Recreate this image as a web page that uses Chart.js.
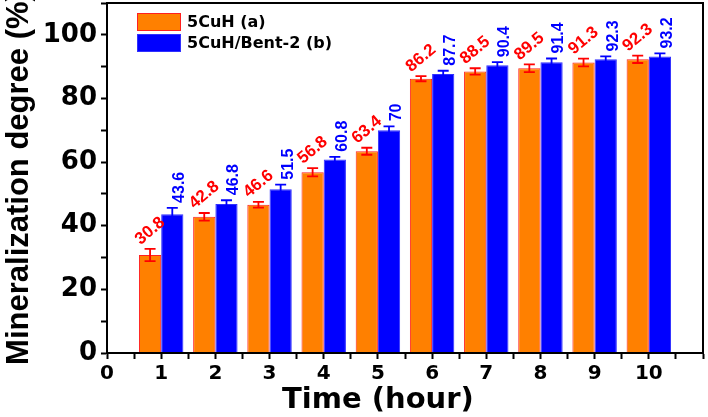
<!DOCTYPE html>
<html>
<head>
<meta charset="utf-8">
<script src="https://cdn.jsdelivr.net/npm/chart.js@4.4.1/dist/chart.umd.min.js"></script>
<style>
html, body { margin: 0; padding: 0; background: #fff; }
#wrap { width: 708px; height: 417px; }
</style>
</head>
<body>
<div id="wrap"><canvas id="chart" width="708" height="417"></canvas></div>
<script>
// values
var hours = [1, 2, 3, 4, 5, 6, 7, 8, 9, 10];
var cuhValues = [30.8, 42.8, 46.6, 56.8, 63.4, 86.2, 88.5, 89.5, 91.3, 92.3];
var cuhErrors = [1.9, 1.2, 0.9, 1.3, 1.1, 0.8, 1.0, 1.2, 1.2, 1.15];
var bentValues = [43.6, 46.8, 51.5, 60.8, 70, 87.7, 90.4, 91.4, 92.3, 93.2];
var bentErrors = [2.0, 1.2, 1.4, 0.85, 1.25, 1.0, 1.0, 1.15, 0.9, 0.95];
var xTickLabels = ['0', '1', '2', '3', '4', '5', '6', '7', '8', '9', '10'];
var yTickLabels = ['0', '20', '40', '60', '80', '100'];
var seriesNames = ['5CuH (a)', '5CuH/Bent-2 (b)'];

var boldSans = '"DejaVu Sans", sans-serif';
var boldArial = '"Liberation Sans", Arial, sans-serif';

function toPoints(vals) {
    return hours.map(function (h, i) { return { x: h, y: vals[i] }; });
}

// error bars + value labels, placed from the scales
var barExtras = {
    id: 'barExtras',
    afterDatasetsDraw: function (chart) {
        var ctx = chart.ctx;
        var yScale = chart.scales.y;
        chart.data.datasets.forEach(function (ds, d) {
            var meta = chart.getDatasetMeta(d);
            meta.data.forEach(function (bar, i) {
                var v = ds.values[i], e = ds.errors[i];
                var top = yScale.getPixelForValue(v + e);
                var bot = yScale.getPixelForValue(v - e);
                ctx.save();
                ctx.strokeStyle = ds.errorColor;
                ctx.lineWidth = 1.8;
                ctx.beginPath();
                ctx.moveTo(bar.x, top); ctx.lineTo(bar.x, bot);
                ctx.moveTo(bar.x - 5.5, top); ctx.lineTo(bar.x + 5.5, top);
                ctx.moveTo(bar.x - 5.5, bot); ctx.lineTo(bar.x + 5.5, bot);
                ctx.stroke();

                ctx.fillStyle = ds.errorColor;
                if (d === 0) {
                    ctx.font = 'bold 17px ' + boldArial;
                    ctx.translate(bar.x, top - 18);
                    ctx.rotate(-40 * Math.PI / 180);
                    ctx.textAlign = 'center';
                    ctx.textBaseline = 'middle';
                } else {
                    ctx.font = 'bold 16px ' + boldArial;
                    ctx.translate(bar.x + 7.5, top - 5);
                    ctx.rotate(-Math.PI / 2);
                    ctx.textAlign = 'left';
                    ctx.textBaseline = 'middle';
                }
                ctx.fillText(String(v), 0, 0);
                ctx.restore();
            });
        });
    }
};

// frame, legend and x title
var decor = {
    id: 'decor',
    afterDraw: function (chart) {
        var ctx = chart.ctx;
        var a = chart.chartArea;
        ctx.save();
        ctx.strokeStyle = '#000';
        ctx.lineWidth = 2;
        ctx.strokeRect(a.left, a.top, a.right - a.left, a.bottom - a.top);

        // legend
        chart.data.datasets.forEach(function (ds, d) {
            var bx = a.left + 30, by = a.top + 10 + d * 21;
            ctx.fillStyle = ds.backgroundColor;
            ctx.fillRect(bx, by, 44, 18);
            ctx.strokeStyle = ds.borderColor;
            ctx.lineWidth = 1;
            ctx.strokeRect(bx + 0.5, by + 0.5, 43, 17);
            ctx.fillStyle = '#000';
            ctx.font = 'bold 16px ' + boldSans;
            ctx.textAlign = 'left';
            ctx.textBaseline = 'middle';
            ctx.fillText(ds.label, bx + 50, by + 10);
        });

        // x title centred on the 0..10 span
        var xs = chart.scales.x;
        ctx.fillStyle = '#000';
        ctx.font = 'bold 29px ' + boldSans;
        ctx.textAlign = 'center';
        ctx.textBaseline = 'middle';
        ctx.fillText('Time (hour)', (xs.getPixelForValue(0) + xs.getPixelForValue(10)) / 2, 400);
        ctx.restore();
    }
};

function noPad(s) {
    s.paddingTop = 0; s.paddingBottom = 0; s.paddingLeft = 0; s.paddingRight = 0;
}

new Chart(document.getElementById('chart').getContext('2d'), {
    type: 'bar',
    data: {
        datasets: [{
            label: seriesNames[0],
            data: toPoints(cuhValues),
            values: cuhValues,
            errors: cuhErrors,
            errorColor: '#ff0000',
            backgroundColor: '#ff8000',
            borderColor: '#ff2020',
            borderWidth: 1
        }, {
            label: seriesNames[1],
            data: toPoints(bentValues),
            values: bentValues,
            errors: bentErrors,
            errorColor: '#0000ff',
            backgroundColor: '#0000ff',
            borderColor: '#3030ff',
            borderWidth: 1
        }]
    },
    options: {
        responsive: false,
        animation: false,
        devicePixelRatio: 1,
        layout: { padding: { top: 3, right: 5, left: 0, bottom: 0 } },
        // ruler spacing is the half-hour tick step, so 1.64 of it is one group
        categoryPercentage: 1.64,
        barPercentage: 1.0,
        plugins: {
            legend: { display: false },
            tooltip: { enabled: false }
        },
        scales: {
            x: {
                type: 'linear',
                min: 0,
                max: 11,
                offset: false,
                afterFit: function (s) { s.height = 64; noPad(s); },
                border: { color: '#000', width: 2 },
                grid: { display: true, offset: false, drawOnChartArea: false, drawTicks: true, tickLength: 6, tickColor: '#000', tickWidth: 2 },
                ticks: {
                    stepSize: 0.5,
                    autoSkip: false,
                    maxRotation: 0,
                    padding: 3,
                    color: '#000',
                    font: { family: boldSans, size: 20, weight: 'bold' },
                    callback: function (v) {
                        return (Number.isInteger(v) && v <= 10) ? xTickLabels[v] : '';
                    }
                }
            },
            y: {
                min: 0,
                max: 110,
                afterFit: function (s) { s.width = 107; noPad(s); },
                border: { color: '#000', width: 2 },
                grid: { display: true, drawOnChartArea: false, drawTicks: true, tickLength: 6, tickColor: '#000', tickWidth: 2 },
                ticks: {
                    stepSize: 10,
                    autoSkip: false,
                    padding: 4,
                    color: '#000',
                    font: { family: boldSans, size: 26, weight: 'bold' },
                    callback: function (v) {
                        return (v % 20 === 0 && v <= 100) ? yTickLabels[v / 20] : '';
                    }
                },
                title: {
                    display: true,
                    text: 'Mineralization degree (%)',
                    color: '#000',
                    padding: { top: 1, bottom: 0 },
                    font: { family: boldArial, size: 31, weight: 'bold' }
                }
            }
        }
    },
    plugins: [barExtras, decor]
});
</script>
</body>
</html>
